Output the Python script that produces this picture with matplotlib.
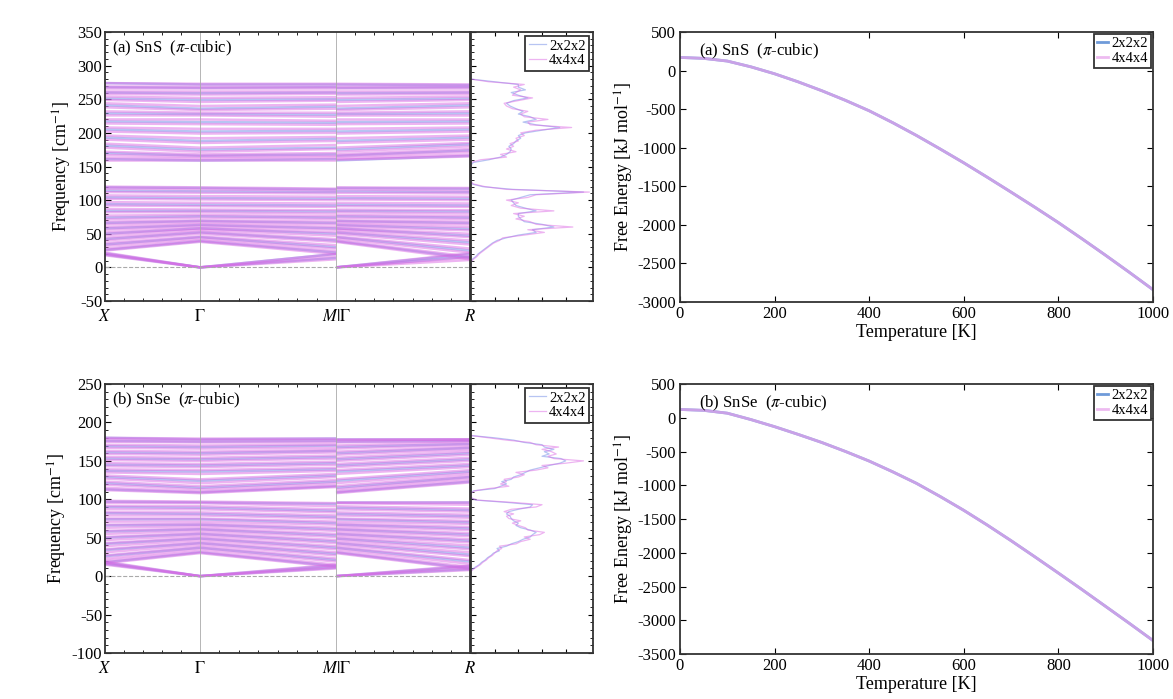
import matplotlib
matplotlib.use('Agg')
import matplotlib.pyplot as plt
import numpy as np

plt.rcParams['font.family'] = ['Liberation Serif', 'DejaVu Serif']
plt.rcParams['mathtext.fontset'] = 'stix'
plt.rcParams['axes.unicode_minus'] = False

# high-symmetry path positions (X - Gamma - M | Gamma - R)
kpos = [0, 95, 231, 365]
klabels = ['$X$', r'$\Gamma$', r'$M|\Gamma$', '$R$']

# ---- SnS bands, 4x4x4 (values at X, G, M, R)
sns4_X = [18, 20, 22, 25, 28, 32, 36, 40, 44, 48, 52, 56, 60, 64, 68, 72, 77, 82, 87, 92, 97, 102, 107, 112, 117, 120,
          160, 163, 167, 172, 178, 184, 190, 196, 202, 208, 214, 220, 226, 232, 238, 244, 249, 254, 258, 262, 266, 270, 274]
sns4_G = [0, 0, 0, 38, 40, 43, 46, 50, 53, 56, 58, 61, 64, 67, 70, 74, 78, 82, 86, 91, 96, 101, 106, 111, 116, 119,
          160, 162, 165, 168, 172, 178, 185, 192, 199, 206, 213, 220, 226, 230, 234, 240, 246, 252, 257, 262, 266, 270, 273]
sns4_M = [12, 16, 20, 20, 24, 28, 33, 38, 42, 47, 52, 56, 60, 64, 68, 72, 76, 80, 85, 90, 95, 100, 105, 110, 114, 117,
          160, 163, 166, 170, 176, 182, 188, 194, 200, 206, 212, 218, 224, 230, 236, 242, 248, 253, 258, 262, 266, 270, 273]
sns4_R = [11, 15, 21, 12, 16, 22, 28, 34, 40, 45, 50, 55, 60, 64, 68, 72, 76, 80, 85, 90, 95, 100, 105, 110, 114, 118,
          165, 168, 172, 176, 180, 185, 190, 196, 202, 208, 214, 220, 226, 232, 238, 244, 249, 254, 258, 262, 266, 270, 272]

# ---- SnS bands, 2x2x2
sns2_X = [19, 21, 26, 34, 42, 50, 58, 66, 74, 84, 94, 104, 114, 119,
          161, 170, 181, 193, 205, 217, 229, 241, 251, 260, 268, 274]
sns2_G = [0, 0, 39, 45, 52, 58, 63, 69, 76, 84, 93, 103, 113, 118,
          159, 166, 175, 188, 202, 216, 228, 236, 249, 259, 267, 272]
sns2_M = [14, 20, 22, 30, 40, 50, 58, 66, 74, 83, 92, 102, 112, 116,
          161, 168, 178, 191, 203, 215, 227, 239, 250, 260, 268, 272]
sns2_R = [16, 20, 14, 25, 37, 47, 57, 66, 74, 83, 92, 102, 112, 117,
          166, 174, 183, 193, 205, 217, 229, 241, 251, 260, 268, 271]

# ---- SnSe bands, 4x4x4
snse4_X = [15, 17, 19, 17, 20, 23, 27, 31, 35, 39, 43, 47, 51, 55, 59, 63, 67, 71, 75, 79, 83, 87, 91, 95, 98,
           112, 115, 119, 123, 127, 131, 135, 139, 143, 147, 151, 155, 159, 163, 167, 171, 175, 178, 180]
snse4_G = [0, 0, 0, 30, 32, 35, 38, 41, 44, 47, 50, 53, 56, 59, 62, 65, 68, 71, 75, 79, 83, 87, 91, 95, 97,
           108, 110, 113, 117, 121, 126, 133, 138, 142, 146, 150, 154, 158, 162, 166, 170, 174, 177, 179]
snse4_M = [10, 12, 15, 12, 15, 19, 23, 27, 31, 35, 39, 43, 47, 51, 55, 59, 63, 67, 71, 75, 79, 83, 87, 91, 95,
           116, 118, 121, 125, 129, 133, 137, 141, 145, 149, 153, 157, 161, 164, 167, 171, 174, 177, 179]
snse4_R = [8, 11, 14, 9, 12, 16, 21, 26, 31, 35, 40, 44, 48, 52, 56, 60, 64, 68, 72, 76, 80, 84, 88, 93, 97,
           122, 125, 128, 131, 134, 138, 142, 146, 150, 154, 158, 162, 165, 168, 171, 174, 176, 178, 179]

# ---- SnSe bands, 2x2x2
snse2_X = [16, 18, 18, 26, 34, 42, 50, 58, 66, 74, 82, 90, 97,
           113, 121, 129, 137, 145, 153, 161, 169, 176, 180]
snse2_G = [0, 0, 31, 37, 43, 49, 55, 61, 67, 74, 81, 89, 96,
           109, 115, 124, 136, 144, 152, 160, 168, 175, 178]
snse2_M = [11, 14, 13, 21, 29, 37, 45, 53, 61, 69, 77, 85, 94,
           117, 123, 131, 139, 147, 155, 163, 170, 176, 179]
snse2_R = [9, 13, 10, 19, 28, 37, 46, 54, 62, 70, 78, 86, 96,
           123, 129, 136, 144, 152, 160, 167, 172, 176, 178]

# ---- phonon DOS (arb. units)
sns_dos_freq = np.arange(0, 281, 4)
sns_dos_444 = [0, 0, 0, 0.02, 0.05, 0.07, 0.10, 0.13, 0.16, 0.19,
               0.24, 0.27, 0.45, 0.62, 0.48, 0.86, 0.55, 0.50, 0.38, 0.45,
               0.36, 0.70, 0.42, 0.34, 0.40, 0.30, 0.48, 0.55, 1.0, 0.30,
               0.12, 0.02, 0, 0, 0, 0, 0, 0, 0, 0,
               0.08, 0.30, 0.25, 0.38, 0.30, 0.36, 0.33, 0.40, 0.38, 0.45,
               0.42, 0.55, 0.85, 0.50, 0.48, 0.65, 0.45, 0.42, 0.48, 0.35,
               0.30, 0.28, 0.40, 0.52, 0.35, 0.38, 0.42, 0.36, 0.45, 0.15,
               0]
sns_dos_222 = [0, 0, 0, 0.01, 0.04, 0.06, 0.09, 0.12, 0.15, 0.18,
               0.22, 0.30, 0.40, 0.55, 0.52, 0.70, 0.60, 0.45, 0.42, 0.40,
               0.40, 0.55, 0.46, 0.38, 0.36, 0.34, 0.42, 0.50, 0.95, 0.35,
               0.10, 0.01, 0, 0, 0, 0, 0, 0, 0, 0.02,
               0.15, 0.25, 0.30, 0.33, 0.34, 0.32, 0.36, 0.38, 0.42, 0.40,
               0.46, 0.60, 0.75, 0.55, 0.44, 0.55, 0.50, 0.40, 0.44, 0.38,
               0.33, 0.30, 0.36, 0.48, 0.40, 0.34, 0.46, 0.40, 0.40, 0.20,
               0]
snse_dos_freq = np.arange(0, 184, 3)
snse_dos_444 = [0, 0, 0, 0.02, 0.05, 0.08, 0.10, 0.13, 0.15, 0.18,
                0.20, 0.22, 0.26, 0.24, 0.38, 0.42, 0.50, 0.45, 0.58, 0.62,
                0.48, 0.46, 0.40, 0.35, 0.42, 0.32, 0.30, 0.36, 0.28, 0.34,
                0.55, 0.60, 0.35, 0.05, 0, 0, 0, 0.03, 0.15, 0.32,
                0.25, 0.30, 0.28, 0.40, 0.45, 0.38, 0.55, 0.65, 0.60, 0.80,
                0.95, 0.70, 0.65, 0.72, 0.68, 0.60, 0.74, 0.55, 0.50, 0.30,
                0.15, 0]
snse_dos_222 = [0, 0, 0, 0.01, 0.04, 0.07, 0.09, 0.12, 0.14, 0.17,
                0.19, 0.24, 0.22, 0.30, 0.34, 0.40, 0.44, 0.50, 0.52, 0.55,
                0.50, 0.42, 0.38, 0.40, 0.36, 0.34, 0.33, 0.30, 0.32, 0.40,
                0.50, 0.52, 0.30, 0.04, 0, 0, 0, 0.02, 0.20, 0.25,
                0.30, 0.26, 0.34, 0.36, 0.42, 0.46, 0.50, 0.58, 0.66, 0.75,
                0.80, 0.76, 0.60, 0.66, 0.62, 0.70, 0.62, 0.60, 0.45, 0.36,
                0.20, 0]

# ---- free energy vs temperature
temp = [0, 50, 100, 150, 200, 250, 300, 350, 400, 450, 500, 550, 600, 650, 700, 750, 800, 850, 900, 950, 1000]
sns_F = [172, 160, 125, 50, -40, -145, -260, -385, -520, -675, -840, -1015, -1195, -1383, -1575, -1770,
         -1970, -2180, -2395, -2615, -2840]
snse_F = [125, 112, 70, -25, -130, -245, -365, -498, -640, -800, -970, -1165, -1370, -1590, -1820, -2058,
          -2300, -2545, -2795, -3045, -3300]

c_blue = '#7d95e8'
c_pink = '#dc6ae4'
c_blue_leg = '#6f9bd9'
c_pink_leg = '#e8a4ec'
edge = '#333333'

fig = plt.figure(figsize=(11.73, 6.99), dpi=100)


def style_spines(ax):
    for s in ax.spines.values():
        s.set_color(edge)
        s.set_linewidth(1.3)


def draw_bands(ax, X, G, M, R, color, alpha, lw):
    for i in range(len(X)):
        ax.plot(kpos[:3], [X[i], G[i], M[i]], color=color, alpha=alpha, lw=lw, solid_capstyle='butt')
        ax.plot(kpos[2:], [G[i], R[i]], color=color, alpha=alpha, lw=lw, solid_capstyle='butt')


def band_panel(rect, dos_rect, b2, b4, dfreq, d2, d4, ylim, label):
    ax = fig.add_axes(rect)
    draw_bands(ax, *b2, c_blue, 0.55, 1.8)
    draw_bands(ax, *b4, c_pink, 0.5, 1.8)
    ax.axhline(0, color='#aaaaaa', ls='--', lw=0.8)
    for k in kpos[1:3]:
        ax.axvline(k, color='#aaaaaa', lw=0.6)
    ax.set_xlim(kpos[0], kpos[-1])
    ax.set_ylim(*ylim)
    ax.set_xticks(kpos)
    ax.set_xticklabels(klabels, fontsize=12)
    minors = list(np.linspace(0, 95, 6)) + list(np.linspace(95, 231, 8)) + list(np.linspace(231, 365, 8))
    ax.set_xticks(minors, minor=True)
    ax.set_yticks(np.arange(ylim[0], ylim[1] + 1, 50))
    ax.set_yticks(np.arange(ylim[0], ylim[1] + 1, 10), minor=True)
    ax.tick_params(axis='both', which='both', direction='in', top=True, right=False, labelsize=12, pad=2)
    ax.tick_params(axis='x', which='major', length=0, pad=6)
    ax.tick_params(which='minor', length=2.5)
    ax.tick_params(axis='y', which='major', length=4)
    ax.set_ylabel('Frequency [cm$^{-1}$]', fontsize=13, labelpad=2)
    ax.text(0.02, 0.975, label, transform=ax.transAxes, va='top', ha='left', fontsize=12)
    style_spines(ax)

    dax = fig.add_axes(dos_rect, sharey=ax)
    dax.plot(d2, dfreq, color=c_blue, alpha=0.55, lw=0.9, label='2x2x2')
    dax.plot(d4, dfreq, color=c_pink, alpha=0.5, lw=0.9, label='4x4x4')
    dax.set_xlim(0, 1.03)
    dax.set_xticks([0.2, 0.4, 0.6, 0.8])
    dax.tick_params(axis='both', which='both', direction='in', top=True, right=True, left=True,
                    labelbottom=False, labelleft=False)
    dax.tick_params(axis='x', length=3)
    dax.tick_params(which='minor', length=2.5)
    leg = dax.legend(loc='upper right', fontsize=10.5, handlelength=1.2, handletextpad=0.2,
                     borderaxespad=0.25, borderpad=0.25, labelspacing=0.1, fancybox=False, framealpha=1)
    leg.get_frame().set_edgecolor(edge)
    leg.get_frame().set_linewidth(1.3)
    style_spines(dax)


def energy_panel(rect, F, ylim, label):
    ax = fig.add_axes(rect)
    ax.plot(temp, F, color=c_blue_leg, lw=2.0, label='2x2x2')
    ax.plot(temp, F, color=c_pink_leg, lw=2.0, alpha=0.75, label='4x4x4')
    ax.set_xlim(0, 1000)
    ax.set_ylim(*ylim)
    ax.set_xticks(np.arange(0, 1001, 200))
    ax.set_yticks(np.arange(ylim[0], ylim[1] + 1, 500))
    ax.tick_params(direction='in', top=True, right=True, labelsize=12, length=4, pad=3)
    ax.set_xlabel('Temperature [K]', fontsize=13, labelpad=1)
    ax.set_ylabel('Free Energy [kJ mol$^{-1}$]', fontsize=13, labelpad=1)
    ax.text(0.04, 0.965, label, transform=ax.transAxes, va='top', ha='left', fontsize=12)
    leg = ax.legend(loc='upper right', fontsize=10.5, handlelength=0.8, handletextpad=0.2,
                    borderaxespad=0.15, borderpad=0.2, labelspacing=0.1, fancybox=False, framealpha=1)
    leg.get_frame().set_edgecolor(edge)
    leg.get_frame().set_linewidth(1.3)
    style_spines(ax)


band_panel([0.0895, 0.5694, 0.3112, 0.3848], [0.4015, 0.5694, 0.104, 0.3848],
           (sns2_X, sns2_G, sns2_M, sns2_R), (sns4_X, sns4_G, sns4_M, sns4_R),
           sns_dos_freq, sns_dos_222, sns_dos_444, (-50, 350), r'(a) SnS  ($\pi$-cubic)')
band_panel([0.0895, 0.0658, 0.3112, 0.3848], [0.4015, 0.0658, 0.104, 0.3848],
           (snse2_X, snse2_G, snse2_M, snse2_R), (snse4_X, snse4_G, snse4_M, snse4_R),
           snse_dos_freq, snse_dos_222, snse_dos_444, (-100, 250), r'(b) SnSe  ($\pi$-cubic)')

energy_panel([0.5797, 0.568, 0.4032, 0.386], sns_F, (-3000, 500), r'(a) SnS  ($\pi$-cubic)')
energy_panel([0.5797, 0.0644, 0.4032, 0.386], snse_F, (-3500, 500), r'(b) SnSe  ($\pi$-cubic)')

fig.savefig('out.png', dpi=100)
